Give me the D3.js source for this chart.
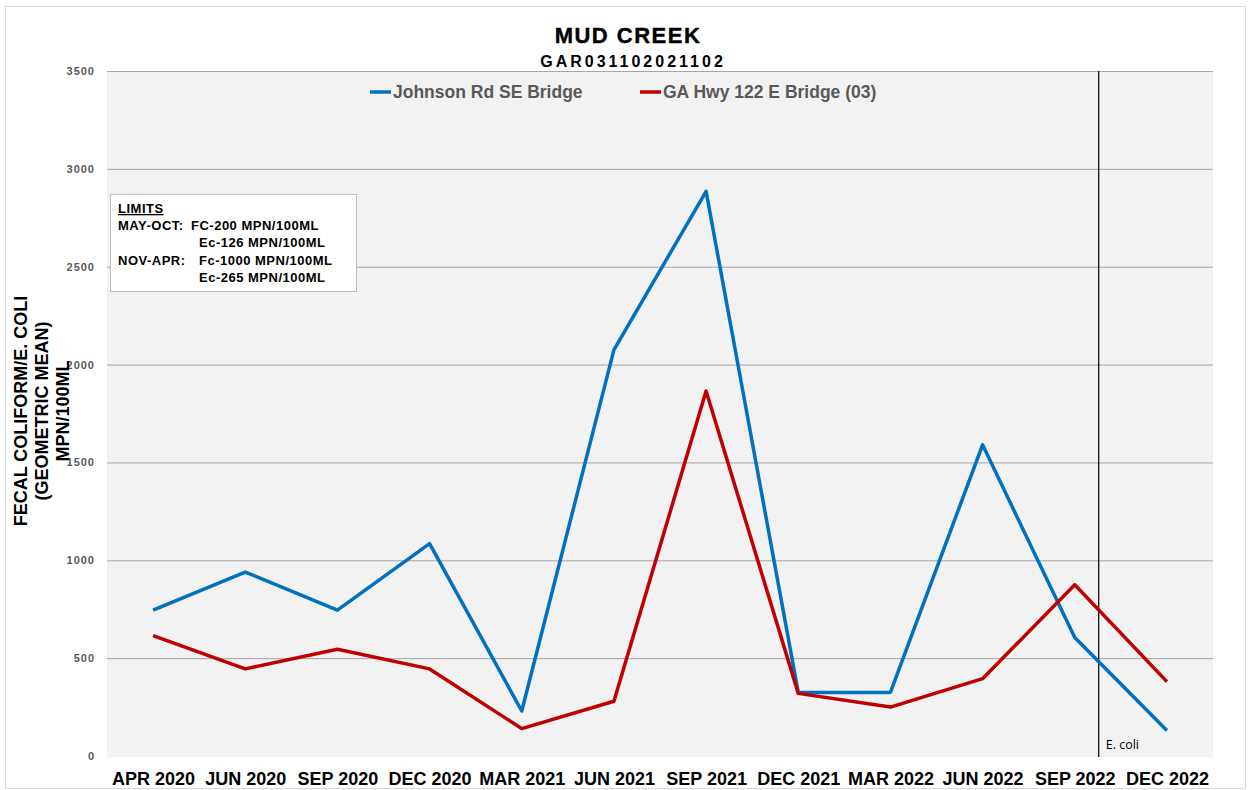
<!DOCTYPE html>
<html>
<head>
<meta charset="utf-8">
<script src="https://cdn.jsdelivr.net/npm/d3@7"></script>
<style>
  body { margin: 0; background: #fff; }
  svg { display: block; font-family: "Liberation Sans", Arial, sans-serif; }
</style>
</head>
<body>
<svg id="chart" width="1251" height="790"></svg>
<script>
const categories = ['APR 2020', 'JUN 2020', 'SEP 2020', 'DEC 2020', 'MAR 2021', 'JUN 2021',
  'SEP 2021', 'DEC 2021', 'MAR 2022', 'JUN 2022', 'SEP 2022', 'DEC 2022']
const johnson = [745, 940, 745, 1085, 230, 2075, 2885, 325, 325, 1590, 605, 130]
const gaHwy = [615, 445, 545, 445, 140, 280, 1865, 320, 250, 395, 875, 380]
const yTicks = [0, 500, 1000, 1500, 2000, 2500, 3000, 3500]
const seriesNames = ['Johnson Rd SE Bridge', 'GA Hwy 122 E Bridge (03)']
const limitsLines = [
  ['MAY-OCT:', 'FC-200 MPN/100ML'],
  ['', 'Ec-126 MPN/100ML'],
  ['NOV-APR:', 'Fc-1000 MPN/100ML'],
  ['', 'Ec-265 MPN/100ML']
]

const svg = d3.select('#chart')
const plotL = 107, plotR = 1213, plotT = 71, plotB = 756

// outer border
svg.append('rect')
  .attr('x', 5.5).attr('y', 6.5).attr('width', 1240).attr('height', 782)
  .attr('fill', '#fff').attr('stroke', '#d9d9d9')

const x = d3.scalePoint().domain(categories).range([plotL, plotR]).padding(0.5)
const y = d3.scaleLinear().domain([0, 3500]).range([plotB, plotT])

// plot background
svg.append('rect')
  .attr('x', plotL).attr('y', plotT).attr('width', plotR - plotL).attr('height', plotB - plotT + 1)
  .attr('fill', '#f2f2f2')

// y axis with gridlines
const yAxis = svg.append('g')
  .attr('transform', `translate(${plotL},0)`)
  .call(d3.axisLeft(y).tickValues(yTicks).tickFormat(d3.format('d'))
    .tickSize(-(plotR - plotL)).tickPadding(12))
yAxis.select('.domain').remove()
yAxis.selectAll('.tick line')
  .attr('stroke', d => d === 0 ? 'none' : '#a6a6a6').attr('stroke-width', 1)
yAxis.selectAll('.tick text')
  .attr('fill', '#595959').attr('font-size', 11).attr('font-weight', 'bold')
  .attr('letter-spacing', 1)
  .attr('font-family', '"Liberation Sans", Arial, sans-serif')

// x axis labels
const xAxis = svg.append('g')
  .attr('transform', `translate(0,${plotB})`)
  .call(d3.axisBottom(x).tickSize(0).tickPadding(16))
xAxis.select('.domain').remove()
xAxis.selectAll('.tick text')
  .attr('fill', '#000').attr('font-size', 18).attr('font-weight', 'bold')
  .attr('font-family', '"Liberation Sans", Arial, sans-serif')

// E. coli divider
const divX = x('SEP 2022') + x.step() * 0.26
svg.append('line')
  .attr('x1', divX).attr('x2', divX).attr('y1', plotT).attr('y2', plotB + 1)
  .attr('stroke', '#000').attr('stroke-width', 1.2)
svg.append('text')
  .attr('x', divX + 7).attr('y', 749)
  .attr('font-size', 12.5).attr('font-family', '"Open Sans", sans-serif')
  .text('E. coli')

// lines
const line = d3.line().x((d, i) => x(categories[i])).y(d => y(d))
const colors = ['#0070c0', '#c00000']
;[johnson, gaHwy].forEach(function(vals, i) {
  svg.append('path')
    .datum(vals)
    .attr('d', line)
    .attr('fill', 'none')
    .attr('stroke', colors[i])
    .attr('stroke-width', 3.5)
    .attr('stroke-linejoin', 'round')
})

// legend
const legendX = [370, 640]
seriesNames.forEach(function(name, i) {
  svg.append('line')
    .attr('x1', legendX[i]).attr('x2', legendX[i] + 21).attr('y1', 92).attr('y2', 92)
    .attr('stroke', colors[i]).attr('stroke-width', 3.5)
  svg.append('text')
    .attr('x', legendX[i] + 23).attr('y', 98)
    .attr('fill', '#595959').attr('font-size', 17.5).attr('font-weight', 'bold')
    .text(name)
})

// titles
svg.append('text')
  .attr('x', 628).attr('y', 43).attr('text-anchor', 'middle')
  .attr('font-size', 22).attr('font-weight', 'bold').attr('letter-spacing', 1.5)
  .attr('stroke', '#000').attr('stroke-width', 0.4)
  .text('MUD CREEK')
svg.append('text')
  .attr('x', 633).attr('y', 67).attr('text-anchor', 'middle')
  .attr('font-size', 16).attr('font-weight', 'bold').attr('letter-spacing', 3)
  .text('GAR031102021102')

// y axis title
const yTitle = svg.append('text')
  .attr('transform', 'translate(0,411) rotate(-90)')
  .attr('text-anchor', 'middle')
  .attr('font-size', 18).attr('font-weight', 'bold')
;['FECAL COLIFORM/E. COLI', '(GEOMETRIC MEAN)', 'MPN/100ML'].forEach(function(t, i) {
  yTitle.append('tspan').attr('x', 0).attr('y', 27 + i * 21).text(t)
})

// limits box
const box = svg.append('g').attr('transform', 'translate(110,194)')
box.append('rect')
  .attr('x', 0.5).attr('y', 0.5).attr('width', 246).attr('height', 97)
  .attr('fill', '#fff').attr('stroke', '#bfbfbf')
box.append('text')
  .attr('x', 8).attr('y', 19)
  .attr('font-size', 13).attr('font-weight', 'bold').attr('letter-spacing', 0.5)
  .attr('text-decoration', 'underline')
  .text('LIMITS')
limitsLines.forEach(function(row, i) {
  box.append('text')
    .attr('x', 8).attr('y', 36 + i * 17.3)
    .attr('font-size', 13).attr('font-weight', 'bold').attr('letter-spacing', 0.5)
    .text(row[0])
  box.append('text')
    .attr('x', i === 0 ? 81 : 89).attr('y', 36 + i * 17.3)
    .attr('font-size', 13).attr('font-weight', 'bold').attr('letter-spacing', 0.5)
    .text(row[1])
})
</script>
</body>
</html>
